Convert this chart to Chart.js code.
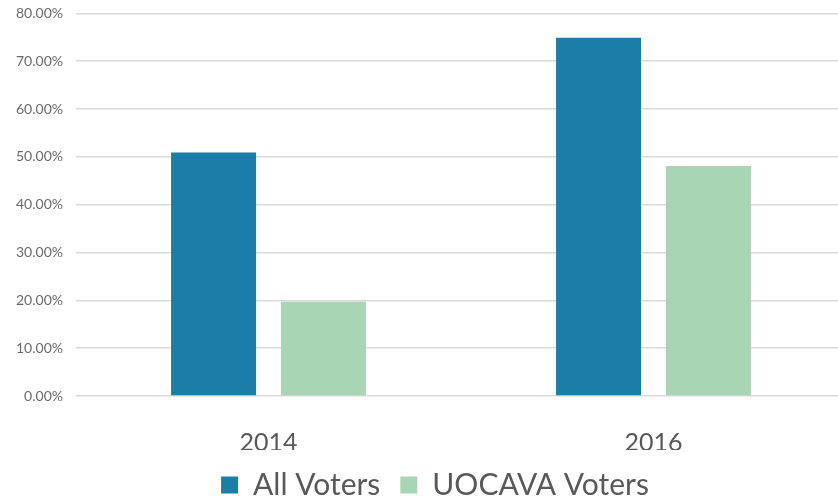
<!DOCTYPE html>
<html>
<head>
<meta charset="utf-8">
<script src="https://cdn.jsdelivr.net/npm/chart.js@4.4.1/dist/chart.umd.min.js"></script>
<style>
  html, body { margin: 0; padding: 0; background: #fff; overflow: hidden; }
  #wrap { width: 850px; height: 510px; margin-top: -8px; }
</style>
</head>
<body>
<div id="wrap"><canvas id="turnoutChart"></canvas></div>
<script>
const years = ['2014', '2016'];
const allVoters = [50.9, 74.9];
const uocavaVoters = [19.7, 48.1];
const yTicks = [0, 10, 20, 30, 40, 50, 60, 70, 80];

// the legend in the original sits a little right of centre
const legendShift = {
    id: 'legendShift',
    afterLayout(chart) {
        chart.legend.left += 12;
        chart.legend.right += 12;
    }
};

window.addEventListener('load', function () {
    const ctx = document.getElementById('turnoutChart');

    new Chart(ctx, {
        type: 'bar',
        data: {
            labels: years,
            datasets: [{
                label: 'All Voters',
                data: allVoters,
                backgroundColor: '#1a7ea8',
                categoryPercentage: 0.571,
                barPercentage: 0.773
            }, {
                label: 'UOCAVA Voters',
                data: uocavaVoters,
                backgroundColor: '#a8d6b4',
                categoryPercentage: 0.571,
                barPercentage: 0.773
            }]
        },
        options: {
            responsive: true,
            maintainAspectRatio: false,
            animation: false,
            layout: {
                padding: { top: 0, right: 4, left: 0, bottom: -8 }
            },
            plugins: {
                legend: {
                    position: 'bottom',
                    labels: {
                        boxWidth: 17,
                        boxHeight: 17,
                        padding: 20,
                        color: '#595959',
                        font: { family: 'Lato', size: 30 }
                    }
                },
                tooltip: { enabled: false }
            },
            scales: {
                x: {
                    afterFit(scale) {
                        scale.height = 54;
                    },
                    grid: { display: false, drawTicks: false },
                    border: { display: false },
                    ticks: {
                        color: '#595959',
                        padding: 32,
                        font: { family: 'Lato', size: 25 }
                    }
                },
                y: {
                    min: 0,
                    max: 80,
                    afterBuildTicks(scale) {
                        scale.ticks = yTicks.map(v => ({ value: v }));
                    },
                    afterFit(scale) {
                        scale.width = 76;
                    },
                    grid: {
                        color: '#d9d9d9',
                        lineWidth: 1.6,
                        drawTicks: false
                    },
                    border: { display: false },
                    ticks: {
                        color: '#6a6a6a',
                        padding: 13,
                        font: { family: 'Lato', size: 14 },
                        callback: v => v.toFixed(2) + '%'
                    }
                }
            }
        },
        plugins: [legendShift]
    });
});
</script>
</body>
</html>
